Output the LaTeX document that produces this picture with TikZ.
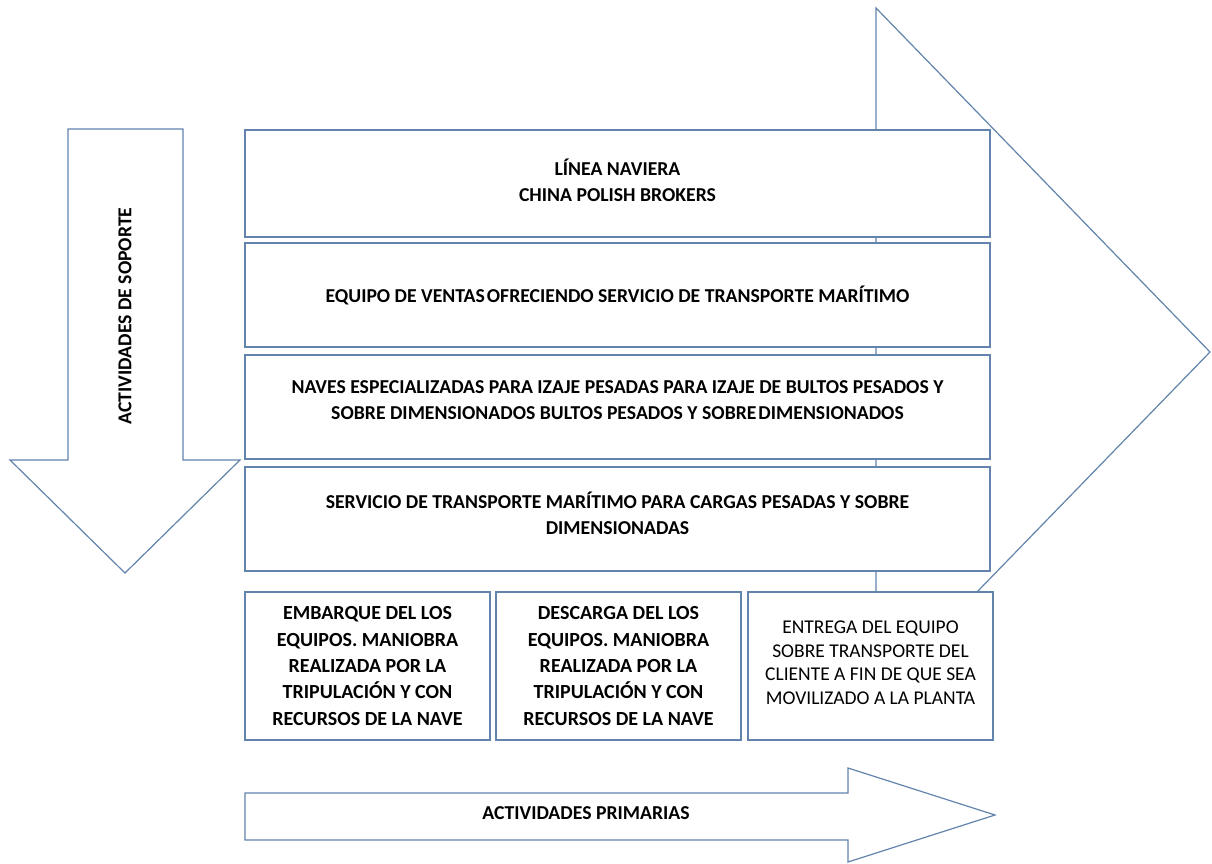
\documentclass[tikz,border=0pt]{standalone}
\usepackage{fontspec}
\setmainfont{Carlito}
\usepackage{tikz}

\definecolor{linea}{RGB}{98,132,172}

\tikzset{
	caja/.style={shape=rectangle, draw=linea, fill=white, line width=1.2pt, align=center,
		font=\bfseries\fontsize{19.7}{26}\selectfont},
	cajachica/.style={caja, minimum width=245pt, minimum height=148pt,
		font=\bfseries\fontsize{20}{26.3}\selectfont},
	flecha/.style={draw=linea, fill=white, line width=1.2pt, line join=miter},
	rotulo/.style={font=\bfseries\fontsize{19.7}{24}\selectfont}
}

\begin{document}
\begin{tikzpicture}[x=1pt, y=-1pt]
	\useasboundingbox (0, 0) rectangle (1212, 864);

	% flecha grande detras de las cajas
	\path[flecha] (876, 8) -- (1210, 352) -- (876, 696) -- cycle;

	% flecha de soporte
	\path[flecha] (68, 129) -- (183, 129) -- (183, 460) -- (240, 460) -- (125, 573)
		-- (10, 460) -- (68, 460) -- cycle;
	\node[rotulo, rotate=90] (soporte) at (125, 316) {ACTIVIDADES DE SOPORTE};

	% flecha de primarias
	\path[flecha] (245, 793) -- (848, 793) -- (848, 768) -- (995, 815) -- (848, 862)
		-- (848, 840) -- (245, 840) -- cycle;
	\node[rotulo] (primarias) at (586, 813) {ACTIVIDADES PRIMARIAS};

	\node[caja, minimum width=745pt, minimum height=107pt] (naviera) at (617.5, 183.5)
		{LÍNEA NAVIERA\\CHINA POLISH BROKERS\\[-19pt]};
	\node[caja, minimum width=745pt, minimum height=104pt] (ventas) at (617.5, 295)
		{EQUIPO DE VENTAS\kern2pt OFRECIENDO SERVICIO DE TRANSPORTE MARÍTIMO};
	\node[caja, minimum width=745pt, minimum height=104pt] (naves) at (617.5, 407)
		{NAVES ESPECIALIZADAS PARA IZAJE PESADAS PARA IZAJE DE BULTOS PESADOS Y\\SOBRE DIMENSIONADOS BULTOS PESADOS Y SOBRE\kern2pt DIMENSIONADOS\\[-12pt]};
	\node[caja, minimum width=745pt, minimum height=104pt] (servicio) at (617.5, 519)
		{SERVICIO DE TRANSPORTE MARÍTIMO PARA CARGAS PESADAS Y SOBRE\\DIMENSIONADAS\\[-14pt]};

	\node[cajachica] (embarque) at (367.5, 666)
		{EMBARQUE DEL LOS\\EQUIPOS. MANIOBRA\\REALIZADA POR LA\\TRIPULACIÓN Y CON\\RECURSOS DE LA NAVE};
	\node[cajachica] (descarga) at (618.5, 666)
		{DESCARGA DEL LOS\\EQUIPOS. MANIOBRA\\REALIZADA POR LA\\TRIPULACIÓN Y CON\\RECURSOS DE LA NAVE};
	\node[cajachica, font=\fontsize{19.5}{23.5}\selectfont] (entrega) at (870.5, 666)
		{ENTREGA DEL EQUIPO\\SOBRE TRANSPORTE DEL\\CLIENTE A FIN DE QUE SEA\\MOVILIZADO A LA PLANTA\\[-17pt]};
\end{tikzpicture}
\end{document}
